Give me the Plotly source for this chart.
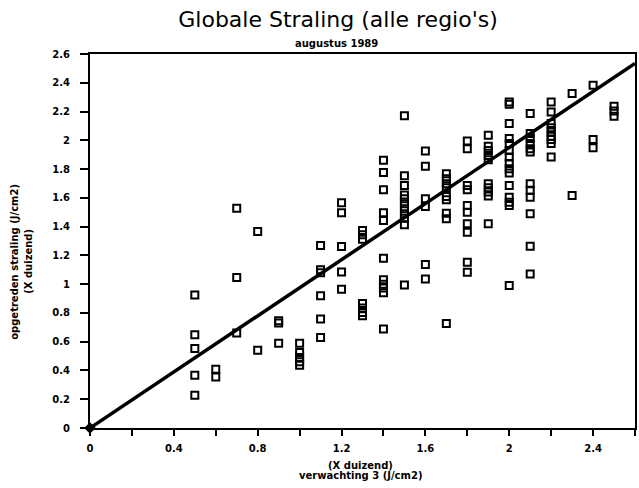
import plotly.graph_objects as go

# expected (x) and observed (y) global radiation, x1000 J/cm2
x_verwachting = (
    [0.5] * 5 + [0.6] * 2 + [0.7] * 3 + [0.8] * 2 + [0.9] * 3 + [1.0] * 5 +
    [1.1] * 6 + [1.2] * 5 + [1.3] * 7 + [1.4] * 11 + [1.5] * 11 + [1.6] * 6 +
    [1.7] * 9 + [1.8] * 10 + [1.9] * 10 + [2.0] * 15 + [2.1] * 12 + [2.2] * 9 +
    [2.3] * 2 + [2.4] * 3 + [2.5] * 3
)
y_opgetreden = [
    0.925, 0.648, 0.553, 0.367, 0.228,
    0.409, 0.355,
    1.528, 1.047, 0.66,
    1.366, 0.541,
    0.746, 0.73, 0.59,
    0.59, 0.525, 0.49, 0.46, 0.437,
    1.268, 1.10, 1.08, 0.92, 0.757, 0.63,
    1.566, 1.496, 1.261, 1.085, 0.964,
    1.373, 1.343, 1.312, 0.866, 0.834, 0.803, 0.78,
    1.861, 1.777, 1.656, 1.496, 1.443, 1.18, 1.03, 1.0, 0.973, 0.94, 0.688,
    2.17, 1.754, 1.686, 1.62, 1.594, 1.559, 1.524, 1.489, 1.459, 1.413, 0.994,
    1.926, 1.819, 1.594, 1.54, 1.136, 1.036,
    1.768, 1.733, 1.698, 1.67, 1.61, 1.587, 1.493, 1.454, 0.727,
    1.995, 1.942, 1.686, 1.656, 1.547, 1.5, 1.42, 1.361, 1.152, 1.082,
    2.035, 1.958, 1.93, 1.895, 1.865, 1.698, 1.67, 1.64, 1.612, 1.42,
    2.267, 2.25, 2.116, 2.012, 1.977, 1.93, 1.884, 1.838, 1.803, 1.772, 1.686, 1.605, 1.57, 1.547, 0.99,
    2.186, 2.047, 2.012, 1.977, 1.942, 1.918, 1.698, 1.652, 1.605, 1.489, 1.263, 1.071,
    2.267, 2.197, 2.116, 2.088, 2.058, 2.028, 2.005, 1.977, 1.884,
    2.325, 1.617,
    2.383, 2.005, 1.949,
    2.237, 2.204, 2.167,
]
# regression line end points
line_x = [0.0, 2.6]
line_y = [0.0, 2.535]
origin_x = [0.0]
origin_y = [0.0]

FONT = "DejaVu Sans"

fig = go.Figure()
fig.add_trace(go.Scatter(
    x=line_x, y=line_y, mode="lines",
    line=dict(color="black", width=3.5), hoverinfo="skip", cliponaxis=False,
))
fig.add_trace(go.Scatter(
    x=x_verwachting, y=y_opgetreden, mode="markers",
    marker=dict(symbol="square-open", size=7, color="black", line=dict(width=2, color="black")),
))
fig.add_trace(go.Scatter(
    x=origin_x, y=origin_y, mode="markers", cliponaxis=False,
    marker=dict(symbol="diamond", size=9, color="black"),
))

axis_common = dict(
    range=[0, 2.6], showgrid=False, zeroline=False,
    showline=True, linecolor="black", linewidth=2, mirror=True,
    ticks="outside", tickcolor="black", tickwidth=2,
    tickfont=dict(family=FONT, size=10, color="black", weight="bold"),
)
fig.update_xaxes(**axis_common, dtick=0.4, tick0=0, ticklen=6, ticklabelstandoff=4,
                 minor=dict(dtick=0.2, ticks="outside", ticklen=6, tickwidth=2, tickcolor="black"))
fig.update_yaxes(**axis_common, dtick=0.2, tick0=0, ticklen=8, ticklabelstandoff=8)

ann_font = dict(family=FONT, size=10, color="black", weight="bold")
fig.update_layout(
    width=639, height=488,
    margin=dict(l=90, r=2, t=54, b=60),
    paper_bgcolor="white", plot_bgcolor="white",
    showlegend=False,
    title=dict(text="Globale Straling (alle regio's)", xref="container", yref="container",
               x=0.529, y=0.96, xanchor="center", yanchor="middle",
               font=dict(family=FONT, size=22, color="black")),
    annotations=[
        dict(text="augustus 1989", xref="paper", yref="paper", x=0.453, y=1.027,
             showarrow=False, xanchor="center", yanchor="middle", font=ann_font),
        dict(text="opgetreden straling (J/cm2)", xref="paper", yref="paper", x=-0.139, y=0.445,
             textangle=-90, showarrow=False, xanchor="center", yanchor="middle", font=ann_font),
        dict(text="(X duizend)", xref="paper", yref="paper", x=-0.1133, y=0.445,
             textangle=-90, showarrow=False, xanchor="center", yanchor="middle", font=ann_font),
        dict(text="(X duizend)", xref="paper", yref="paper", x=0.497, y=-0.099,
             showarrow=False, xanchor="center", yanchor="middle", font=ann_font),
        dict(text="verwachting 3 (J/cm2)", xref="paper", yref="paper", x=0.497, y=-0.128,
             showarrow=False, xanchor="center", yanchor="middle", font=ann_font),
    ],
)

fig.write_html("out.html")
